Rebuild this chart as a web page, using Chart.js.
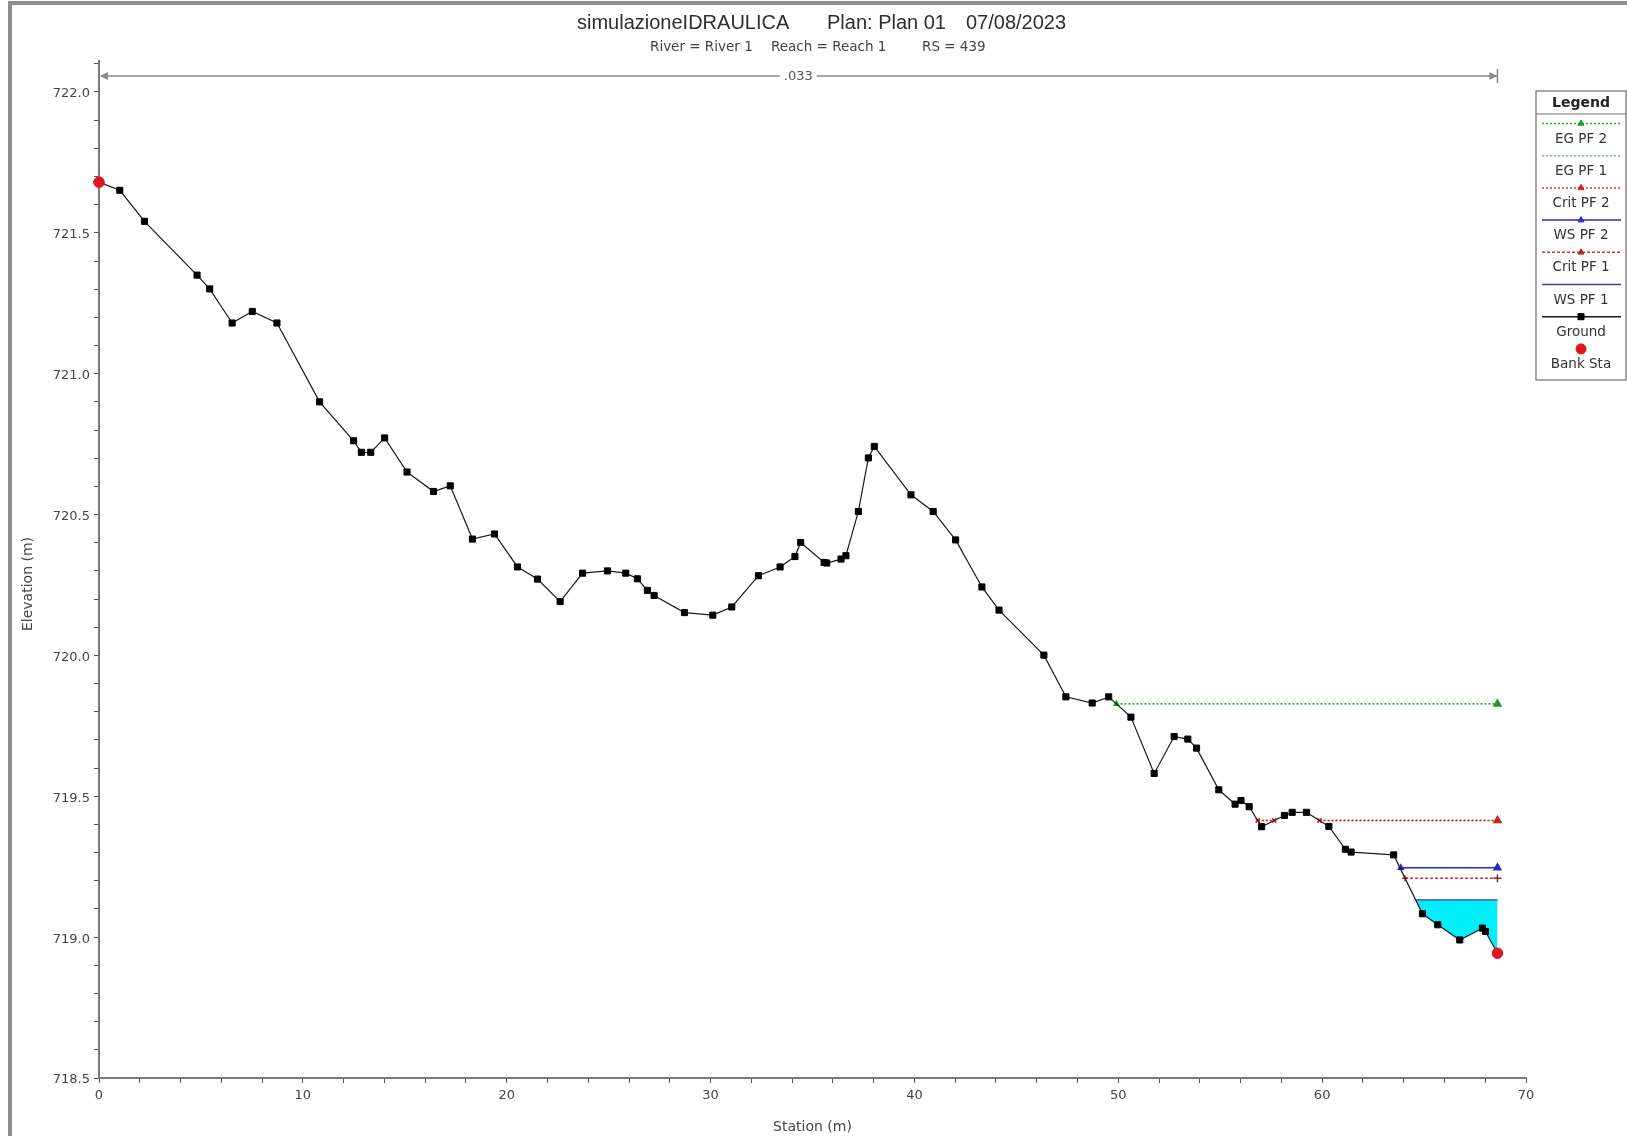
<!DOCTYPE html>
<html>
<head>
<meta charset="utf-8">
<title>simulazioneIDRAULICA - RS 439</title>
<script src="https://cdn.jsdelivr.net/npm/chart.js@4.4.1/dist/chart.umd.min.js"></script>
<style>
  html, body { margin: 0; padding: 0; background: #fff; }
  #wrap { width: 1627px; height: 1136px; }
</style>
</head>
<body>
<div id="wrap"><canvas id="profilo" width="1627" height="1136"></canvas></div>
<script>
// Sezione RS 439: stazione (m) / quota terreno (m)
const stazioni = [0, 1.02, 2.23, 4.81, 5.43, 6.53, 7.52, 8.73, 10.82, 12.49, 12.87, 13.33, 14.01, 15.11, 16.41,
  17.23, 18.32, 19.40, 20.53, 21.51, 22.62, 23.72, 24.94, 25.84, 26.41, 26.90, 27.23, 28.72, 30.11, 31.04,
  32.35, 33.41, 34.14, 34.42, 35.57, 35.70, 36.40, 36.64, 37.25, 37.74, 38.03, 39.83, 40.92, 42.02, 43.31,
  44.15, 46.35, 47.43, 48.72, 49.53, 50.62, 51.76, 52.74, 53.41, 53.84, 54.93, 55.73, 56.02, 56.42, 57.03,
  58.15, 58.53, 59.23, 60.33, 61.14, 61.42, 63.51, 64.92, 65.67, 66.75, 67.86, 68.01, 68.60];
const quote = [721.680, 721.651, 721.541, 721.350, 721.301, 721.180, 721.221, 721.180, 720.900, 720.762, 720.721, 720.721, 720.772, 720.651, 720.582,
  720.602, 720.413, 720.431, 720.314, 720.271, 720.191, 720.292, 720.300, 720.292, 720.272, 720.231, 720.213, 720.152, 720.143, 720.172,
  720.283, 720.314, 720.351, 720.401, 720.330, 720.328, 720.342, 720.354, 720.511, 720.701, 720.742, 720.570, 720.511, 720.410, 720.243,
  720.161, 720.001, 719.853, 719.831, 719.853, 719.781, 719.581, 719.712, 719.703, 719.671, 719.523, 719.472, 719.485, 719.463, 719.392,
  719.432, 719.443, 719.443, 719.393, 719.312, 719.302, 719.292, 719.083, 719.044, 718.990, 719.032, 719.020, 718.943];

// sponde
const bankX = [0, 68.60];
const bankY = [721.680, 718.943];

// profili di calcolo (null = tratto sotto il terreno)
const egPf2X = [49.91, 68.60];
const egPf2Y = [719.828, 719.828];
const egPf1X = [56.84, 57.65, 58.70, 59.87, 68.60];
const egPf1Y = [719.414, 719.414, null, 719.414, 719.414];
const critPf2X = [56.84, 57.65, 58.70, 59.87, 68.60];
const critPf2Y = [719.414, 719.414, null, 719.414, 719.414];
const wsPf2X = [63.86, 68.60];
const wsPf2Y = [719.246, 719.246];
const critPf1X = [64.07, 68.60];
const critPf1Y = [719.209, 719.209];
const wsPf1X = [64.59, 68.60];
const wsPf1Y = [719.132, 719.132];

// scabrezza di Manning
const manningN = ['.033'];

// etichette assi
const xTickLabels = [0, 10, 20, 30, 40, 50, 60, 70];
const yTickLabels = [718.5, 719.0, 719.5, 720.0, 720.5, 721.0, 721.5, 722.0];

const pts = (xs, ys) => xs.map((x, i) => ({ x, y: ys[i] }));
const isLast = (c) => c.dataIndex === c.dataset.data.length - 1;

const SMALL = '"DejaVu Sans", sans-serif';

const profilePlugin = {
  id: 'profilePlugin',
  beforeDraw(chart) {
    const ctx = chart.ctx;
    ctx.save();
    ctx.fillStyle = '#fff';
    ctx.fillRect(0, 0, chart.width, chart.height);
    // cornice
    ctx.strokeStyle = '#8c8c8c';
    ctx.lineWidth = 4;
    ctx.beginPath();
    ctx.moveTo(10, chart.height);
    ctx.lineTo(10, 3);
    ctx.lineTo(chart.width, 3);
    ctx.stroke();
    ctx.restore();
  },
  afterDraw(chart) {
    const ctx = chart.ctx;
    const xs = chart.scales.x;
    const area = chart.chartArea;
    ctx.save();

    // titolo
    ctx.fillStyle = '#2e2e2e';
    ctx.textBaseline = 'middle';
    ctx.textAlign = 'left';
    ctx.font = '20px "Liberation Sans", Arial, sans-serif';
    ctx.fillText('simulazioneIDRAULICA', 577, 23);
    ctx.fillText('Plan: Plan 01', 827, 23);
    ctx.fillText('07/08/2023', 966, 23);
    ctx.fillStyle = '#444';
    ctx.font = '13.5px ' + SMALL;
    ctx.fillText('River = River 1', 650, 47);
    ctx.fillText('Reach = Reach 1', 771, 47);
    ctx.fillText('RS = 439', 922, 47);

    // titolo asse Y
    ctx.save();
    ctx.translate(28, 584);
    ctx.rotate(-Math.PI / 2);
    ctx.textAlign = 'center';
    ctx.font = '14px ' + SMALL;
    ctx.fillText('Elevation (m)', 0, 0);
    ctx.restore();

    // freccia con n di Manning tra le sponde
    const x0 = xs.getPixelForValue(bankX[0]);
    const x1 = xs.getPixelForValue(bankX[1]);
    const yn = area.top + 15;
    const xm = (x0 + x1) / 2;
    ctx.font = '13px ' + SMALL;
    const tw = ctx.measureText(manningN[0]).width;
    ctx.strokeStyle = '#8a8a8a';
    ctx.fillStyle = '#8a8a8a';
    ctx.lineWidth = 1.5;
    ctx.beginPath();
    ctx.moveTo(x0 + 2, yn);
    ctx.lineTo(xm - tw / 2 - 4, yn);
    ctx.moveTo(xm + tw / 2 + 4, yn);
    ctx.lineTo(x1, yn);
    ctx.moveTo(x1, yn - 7);
    ctx.lineTo(x1, yn + 7);
    ctx.stroke();
    ctx.beginPath();
    ctx.moveTo(x0 + 1, yn);
    ctx.lineTo(x0 + 9, yn - 4);
    ctx.lineTo(x0 + 9, yn + 4);
    ctx.closePath();
    ctx.fill();
    ctx.beginPath();
    ctx.moveTo(x1, yn);
    ctx.lineTo(x1 - 8, yn - 4);
    ctx.lineTo(x1 - 8, yn + 4);
    ctx.closePath();
    ctx.fill();
    ctx.fillStyle = '#555';
    ctx.textAlign = 'center';
    ctx.fillText(manningN[0], xm, yn + 1);

    // legenda
    const lx = 1536, ly = 91, lw = 90, lh = 289;
    ctx.fillStyle = '#fff';
    ctx.fillRect(lx, ly, lw, lh);
    ctx.strokeStyle = '#6e6e6e';
    ctx.lineWidth = 1.2;
    ctx.strokeRect(lx, ly, lw, lh);
    ctx.beginPath();
    ctx.moveTo(lx, ly + 23);
    ctx.lineTo(lx + lw, ly + 23);
    ctx.stroke();
    const cx = lx + lw / 2;
    ctx.fillStyle = '#222';
    ctx.font = 'bold 14px ' + SMALL;
    ctx.fillText('Legend', cx, ly + 12);
    chart.data.datasets.forEach((ds, i) => {
      const ys = ly + 32.5 + i * 32.2;
      if (ds.showLine !== false) {
        ctx.strokeStyle = ds.borderColor;
        ctx.lineWidth = 1.5;
        ctx.setLineDash(ds.borderDash || []);
        ctx.beginPath();
        ctx.moveTo(lx + 6, ys);
        ctx.lineTo(lx + lw - 5, ys);
        ctx.stroke();
        ctx.setLineDash([]);
      }
      if (ds.legendMarker) {
        ctx.fillStyle = ds.pointBackgroundColor;
        ctx.strokeStyle = ds.pointBorderColor;
        ctx.lineWidth = 1;
        Chart.helpers.drawPoint(ctx, { pointStyle: ds.legendMarker, radius: ds.legendRadius || 3.5, rotation: 0, borderWidth: 1 }, cx, ys);
      }
      ctx.fillStyle = '#333';
      ctx.font = '13.5px ' + SMALL;
      ctx.fillText(ds.label, cx, ys + 15.5);
    });
    ctx.restore();
  }
};

const groundIndex = 6;

new Chart(document.getElementById('profilo'), {
  type: 'line',
  data: {
    datasets: [
      {
        label: 'EG PF 2', data: pts(egPf2X, egPf2Y), order: 5,
        borderColor: 'rgba(40,150,40,0.9)', borderWidth: 1.6, borderDash: [2, 2],
        pointStyle: 'triangle', pointRadius: (c) => isLast(c) ? 4 : 2.5,
        pointBackgroundColor: 'rgb(40,150,40)', pointBorderColor: 'rgb(40,150,40)',
        legendMarker: 'triangle'
      },
      {
        label: 'EG PF 1', data: pts(egPf1X, egPf1Y), order: 6,
        borderColor: 'rgba(120,170,120,0.9)', borderWidth: 1.4, borderDash: [2, 2],
        pointRadius: 0, pointBackgroundColor: 'rgb(120,170,120)', pointBorderColor: 'rgb(120,170,120)'
      },
      {
        label: 'Crit PF 2', data: pts(critPf2X, critPf2Y), order: 4,
        borderColor: 'rgba(215,30,30,0.9)', borderWidth: 1.6, borderDash: [2, 2],
        pointStyle: (c) => isLast(c) ? 'triangle' : 'crossRot',
        pointRadius: (c) => isLast(c) ? 4 : 3,
        pointBackgroundColor: 'rgb(215,30,30)', pointBorderColor: 'rgb(215,30,30)',
        legendMarker: 'triangle'
      },
      {
        label: 'WS PF 2', data: pts(wsPf2X, wsPf2Y), order: 3,
        borderColor: 'rgb(40,40,200)', borderWidth: 1.5,
        pointStyle: 'triangle', pointRadius: (c) => isLast(c) ? 4 : 3,
        pointBackgroundColor: 'rgb(40,40,200)', pointBorderColor: 'rgb(40,40,200)',
        legendMarker: 'triangle'
      },
      {
        label: 'Crit PF 1', data: pts(critPf1X, critPf1Y), order: 4,
        borderColor: 'rgba(190,30,40,0.9)', borderWidth: 1.5, borderDash: [3, 2],
        pointStyle: 'cross', pointRadius: (c) => isLast(c) ? 4 : 3,
        pointBackgroundColor: 'rgb(190,30,40)', pointBorderColor: 'rgb(160,40,40)',
        legendMarker: 'triangle'
      },
      {
        label: 'WS PF 1', data: pts(wsPf1X, wsPf1Y), order: 2,
        borderColor: 'rgb(60,60,160)', borderWidth: 1.3,
        pointRadius: 0,
        fill: { target: groundIndex, above: 'rgb(0,238,250)', below: 'rgb(0,238,250)' }
      },
      {
        label: 'Ground', data: pts(stazioni, quote), order: 1,
        borderColor: '#1a1a1a', borderWidth: 1.2,
        pointStyle: 'rect', pointRadius: 4.3,
        pointBackgroundColor: '#000', pointBorderColor: '#000', pointBorderWidth: 1,
        legendMarker: 'rect', legendRadius: 4.3
      },
      {
        label: 'Bank Sta', data: pts(bankX, bankY), order: 0, showLine: false,
        borderColor: 'rgb(225,20,30)',
        pointStyle: 'circle', pointRadius: 5.3,
        pointBackgroundColor: 'rgb(225,20,30)', pointBorderColor: 'rgb(225,20,30)',
        legendMarker: 'circle', legendRadius: 5
      }
    ].map(ds => Object.assign({ clip: false, tension: 0 }, ds))
  },
  options: {
    responsive: false,
    devicePixelRatio: 1,
    animation: false,
    events: [],
    layout: { padding: { top: 61, right: 101, bottom: 0, left: 0 } },
    plugins: {
      legend: { display: false },
      title: { display: false },
      tooltip: { enabled: false }
    },
    scales: {
      x: {
        type: 'linear', min: 0, max: 70,
        afterFit: (s) => { s.height = 58; },
        border: { color: '#7a7a7a', width: 2 },
        grid: { drawOnChartArea: false, tickLength: 5, tickColor: '#555' },
        ticks: {
          stepSize: 2, autoSkip: false, maxRotation: 0, padding: 5,
          color: '#444', font: { family: 'DejaVu Sans', size: 13 },
          callback: (v) => xTickLabels.includes(Math.round(v)) && Math.abs(v - Math.round(v)) < 1e-6 ? String(Math.round(v)) : ''
        },
        title: {
          display: true, text: 'Station (m)', color: '#444',
          font: { family: 'DejaVu Sans', size: 14 }, padding: { top: 0, bottom: 0 }
        }
      },
      y: {
        type: 'linear', min: 718.5, max: 722.11,
        afterFit: (s) => { s.width = 99; },
        border: { color: '#7a7a7a', width: 2 },
        grid: { drawOnChartArea: false, tickLength: 5, tickColor: '#555' },
        ticks: {
          stepSize: 0.1, autoSkip: false, includeBounds: false, padding: 4, labelOffset: 2,
          color: '#444', font: { family: 'DejaVu Sans', size: 13 },
          callback: (v) => {
            const r = Math.round(v * 10) / 10;
            return yTickLabels.includes(r) ? r.toFixed(1) : '';
          }
        }
      }
    }
  },
  plugins: [profilePlugin]
});
</script>
</body>
</html>
